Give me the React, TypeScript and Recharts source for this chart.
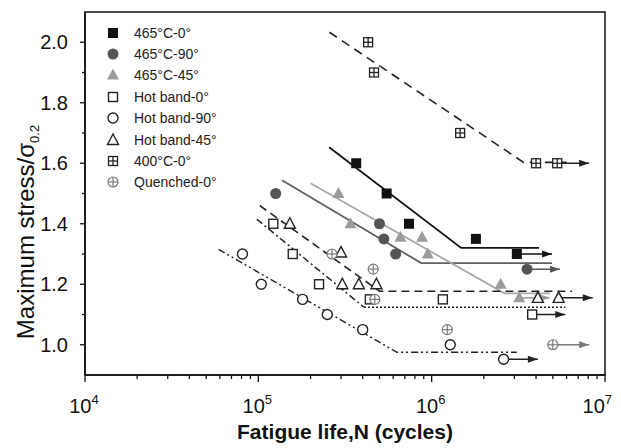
import React from "react";
import { ComposedChart, XAxis, YAxis, Scatter, ReferenceArea, Label } from "recharts";

const W = 613;
const H = 440;
const FONT = "'Liberation Sans', Arial, sans-serif";

// measured points: fatigue life (cycles) and max stress / sigma0.2
const N_465_0 = [3.67e5, 5.5e5, 7.4e5, 1.8e6, 3.1e6];
const S_465_0 = [1.6, 1.5, 1.4, 1.35, 1.3];
const N_465_90 = [1.26e5, 5.0e5, 5.3e5, 6.2e5, 3.55e6];
const S_465_90 = [1.5, 1.4, 1.35, 1.3, 1.25];
const N_465_45 = [2.9e5, 3.4e5, 6.6e5, 8.8e5, 9.5e5, 2.5e6, 3.2e6];
const S_465_45 = [1.5, 1.4, 1.355, 1.355, 1.3, 1.2, 1.155];
const N_HB_0 = [1.22e5, 1.58e5, 2.24e5, 4.4e5, 1.16e6, 3.8e6];
const S_HB_0 = [1.4, 1.3, 1.2, 1.15, 1.15, 1.1];
const N_HB_90 = [8.1e4, 1.04e5, 1.8e5, 2.5e5, 4.0e5, 1.28e6, 2.6e6];
const S_HB_90 = [1.3, 1.2, 1.15, 1.1, 1.05, 1.0, 0.952];
const N_HB_45 = [1.52e5, 3.0e5, 3.05e5, 3.8e5, 4.8e5, 4.1e6, 5.4e6];
const S_HB_45 = [1.4, 1.305, 1.2, 1.2, 1.2, 1.155, 1.155];
const N_400_0 = [4.3e5, 4.65e5, 1.46e6, 4.0e6, 5.3e6];
const S_400_0 = [2.0, 1.9, 1.7, 1.6, 1.6];
const N_Q_0 = [2.66e5, 4.6e5, 4.7e5, 1.23e6, 5.0e6];
const S_Q_0 = [1.3, 1.25, 1.15, 1.05, 1.0];

// run-out arrows go from the last point of each series to these lives
const RUNOUT_465_0 = 4.95e6;
const RUNOUT_465_90 = 5.5e6;
const RUNOUT_465_45 = 4.8e6;
const RUNOUT_HB_0 = 5.9e6;
const RUNOUT_HB_90 = 4.1e6;
const RUNOUT_HB_45 = 8.5e6;
const RUNOUT_400_0 = 8.1e6;
const RUNOUT_Q_0 = 8.1e6;

// fitted S-N lines (knee + fatigue limit)
const FIT_465_0_N = [2.56e5, 1.48e6, 4.17e6];
const FIT_465_0_S = [1.653, 1.32, 1.32];
const FIT_465_90_N = [1.37e5, 8.7e5, 4.95e6];
const FIT_465_90_S = [1.544, 1.27, 1.27];
const FIT_465_45_N = [2.0e5, 2.63e6, 4.8e6];
const FIT_465_45_S = [1.534, 1.17, 1.17];
const FIT_HB_45_N = [1.02e5, 5.0e5, 6.46e6];
const FIT_HB_45_S = [1.46, 1.177, 1.177];
const FIT_HB_0_N = [9.8e4, 4.07e5];
const FIT_HB_0_S = [1.415, 1.124];
const FIT_HB_0_FLAT_N = [4.07e5, 5.9e6];
const FIT_HB_0_FLAT_S = [1.124, 1.124];
const FIT_HB_90_N = [5.9e4, 6.3e5, 3.1e6];
const FIT_HB_90_S = [1.315, 0.975, 0.975];
const FIT_400_0_N = [2.57e5, 3.39e6, 6.0e6];
const FIT_400_0_S = [2.033, 1.603, 1.603];

const X_MAJOR = [1e4, 1e5, 1e6, 1e7];
const X_MINOR_MULT = [2, 3, 4, 5, 6, 7, 8, 9];
const Y_TICKS = [1.0, 1.1, 1.2, 1.3, 1.4, 1.5, 1.6, 1.7, 1.8, 1.9, 2.0];
const Y_LABELS = ["1.0", "1.2", "1.4", "1.6", "1.8", "2.0"];

const X_TICKS = [
  ...X_MAJOR,
  ...X_MAJOR.slice(0, 3).flatMap((d) => X_MINOR_MULT.map((m) => m * d)),
].sort((a, b) => a - b);

const toPts = (n: number[], s: number[]) => n.map((v, i) => ({ n: v, s: s[i] }));

type Kind = "sqFill" | "circFill" | "triFill" | "sqOpen" | "circOpen" | "triOpen" | "sqGrid" | "circCross";

const SERIES: { name: string; n: number[]; s: number[]; tip: number; kind: Kind; color: string }[] = [
  { name: "465°C-0°", n: N_465_0, s: S_465_0, tip: RUNOUT_465_0, kind: "sqFill", color: "#111" },
  { name: "465°C-90°", n: N_465_90, s: S_465_90, tip: RUNOUT_465_90, kind: "circFill", color: "#555" },
  { name: "465°C-45°", n: N_465_45, s: S_465_45, tip: RUNOUT_465_45, kind: "triFill", color: "#9c9c9c" },
  { name: "Hot band-0°", n: N_HB_0, s: S_HB_0, tip: RUNOUT_HB_0, kind: "sqOpen", color: "#222" },
  { name: "Hot band-90°", n: N_HB_90, s: S_HB_90, tip: RUNOUT_HB_90, kind: "circOpen", color: "#222" },
  { name: "Hot band-45°", n: N_HB_45, s: S_HB_45, tip: RUNOUT_HB_45, kind: "triOpen", color: "#222" },
  { name: "400°C-0°", n: N_400_0, s: S_400_0, tip: RUNOUT_400_0, kind: "sqGrid", color: "#222" },
  { name: "Quenched-0°", n: N_Q_0, s: S_Q_0, tip: RUNOUT_Q_0, kind: "circCross", color: "#7a7a7a" },
];

const FITS = [
  { n: FIT_465_0_N, s: FIT_465_0_S, stroke: "#111", width: 1.8, dash: undefined },
  { n: FIT_465_90_N, s: FIT_465_90_S, stroke: "#606060", width: 1.8, dash: undefined },
  { n: FIT_465_45_N, s: FIT_465_45_S, stroke: "#a8a8a8", width: 1.8, dash: undefined },
  { n: FIT_HB_45_N, s: FIT_HB_45_S, stroke: "#222", width: 1.6, dash: "8 5" },
  { n: FIT_HB_0_N, s: FIT_HB_0_S, stroke: "#222", width: 1.5, dash: "7 3 2 3" },
  { n: FIT_HB_0_FLAT_N, s: FIT_HB_0_FLAT_S, stroke: "#222", width: 1.6, dash: "2 2" },
  { n: FIT_HB_90_N, s: FIT_HB_90_S, stroke: "#222", width: 1.4, dash: "7 3 2 3 2 3" },
  { n: FIT_400_0_N, s: FIT_400_0_S, stroke: "#222", width: 1.6, dash: "9 6" },
];

const Marker = ({ kind, cx, cy, color }: { kind: Kind; cx: number; cy: number; color: string }) => {
  if (cx == null || cy == null) return <g />;
  switch (kind) {
    case "sqFill":
      return <rect x={cx - 5} y={cy - 5} width={10} height={10} fill={color} />;
    case "circFill":
      return <circle cx={cx} cy={cy} r={5.5} fill={color} />;
    case "triFill":
      return <polygon points={`${cx},${cy - 6.5} ${cx - 6},${cy + 4.5} ${cx + 6},${cy + 4.5}`} fill={color} />;
    case "sqOpen":
      return <rect x={cx - 4.5} y={cy - 4.5} width={9} height={9} fill="#fff" stroke={color} strokeWidth={1.4} />;
    case "circOpen":
      return <circle cx={cx} cy={cy} r={5} fill="#fff" stroke={color} strokeWidth={1.4} />;
    case "triOpen":
      return (
        <polygon
          points={`${cx},${cy - 6} ${cx - 5.5},${cy + 4.5} ${cx + 5.5},${cy + 4.5}`}
          fill="#fff"
          stroke={color}
          strokeWidth={1.4}
        />
      );
    case "sqGrid":
      return (
        <g stroke={color} strokeWidth={1.3}>
          <rect x={cx - 4.5} y={cy - 4.5} width={9} height={9} fill="#fff" />
          <line x1={cx - 4.5} x2={cx + 4.5} y1={cy} y2={cy} />
          <line x1={cx} x2={cx} y1={cy - 4.5} y2={cy + 4.5} />
        </g>
      );
    case "circCross":
      return (
        <g stroke={color} strokeWidth={1.2}>
          <circle cx={cx} cy={cy} r={5} fill="#fff" />
          <line x1={cx - 5} x2={cx + 5} y1={cy} y2={cy} />
          <line x1={cx} x2={cx} y1={cy - 5} y2={cy + 5} />
        </g>
      );
  }
  return <g />;
};

const XTick = (props: any) => {
  const { x, y, payload } = props;
  const e = Math.log10(payload.value);
  const major = Math.abs(e - Math.round(e)) < 1e-6;
  // last label would run off the page, so it ends at the page edge
  const last = payload.value >= X_MAJOR[X_MAJOR.length - 1];
  return (
    <g>
      <line x1={x} x2={x} y1={y} y2={y + (major ? 7 : 4)} stroke="#111" strokeWidth={1.3} />
      {major && (
        <text
          x={last ? W - 9 : x - 1}
          y={y + 38}
          textAnchor={last ? "end" : "middle"}
          fontSize={20}
          fill="#111"
          fontFamily={FONT}
        >
          10
          <tspan fontSize={13} dy={-9}>
            {Math.round(e)}
          </tspan>
        </text>
      )}
    </g>
  );
};

const YTick = (props: any) => {
  const { x, y, payload } = props;
  const label = payload.value.toFixed(1);
  const major = Y_LABELS.includes(label);
  return (
    <g>
      <line x1={x - (major ? 5 : 3)} x2={x} y1={y} y2={y} stroke="#111" strokeWidth={1.3} />
      {major && (
        <text x={x - 17} y={y + 7} textAnchor="end" fontSize={20} fill="#111" fontFamily={FONT}>
          {label}
        </text>
      )}
    </g>
  );
};

const XTitle = (props: any) => {
  const vb = props.viewBox || {};
  return (
    <text x={vb.x + vb.width / 2} y={431} textAnchor="middle" fontSize={21} fontWeight="bold" fill="#111" fontFamily={FONT}>
      Fatigue life,N (cycles)
    </text>
  );
};

const YTitle = () => (
  <text x={26} y={224} transform="rotate(-90 26 224)" textAnchor="middle" fontSize={24} fill="#111" fontFamily={FONT}>
    Maximum stress/σ
    <tspan fontSize={13} dy={5}>
      0.2
    </tspan>
  </text>
);

const Arrow = (props: any) => {
  const { cx, cy, payload, fill } = props;
  if (!payload || !payload.tip) return <g />;
  return <polygon points={`${cx},${cy} ${cx - 10},${cy - 3.5} ${cx - 10},${cy + 3.5}`} fill={fill} />;
};

export default function App() {
  return (
    <div style={{ position: "relative", width: W, height: H }}>
      <ComposedChart width={W} height={H} margin={{ top: 4, right: 16, bottom: 0, left: 0 }}>
        <XAxis
          dataKey="n"
          type="number"
          scale="log"
          domain={[1e4, 1e7]}
          allowDataOverflow
          ticks={X_TICKS}
          interval={0}
          tickSize={0}
          tickMargin={0}
          tickLine={false}
          tick={<XTick />}
          height={73}
          axisLine={{ stroke: "#111", strokeWidth: 1.5 }}
        >
          <Label content={<XTitle />} />
        </XAxis>
        <YAxis
          dataKey="s"
          type="number"
          domain={[0.9, 2.1]}
          allowDataOverflow
          ticks={Y_TICKS}
          interval={0}
          tickSize={0}
          tickMargin={0}
          tickLine={false}
          tick={<YTick />}
          width={77}
          axisLine={{ stroke: "#111", strokeWidth: 1.5 }}
        >
          <Label content={<YTitle />} />
        </YAxis>
        <ReferenceArea x1={1e4} x2={1e7} y1={0.9} y2={2.1} fill="none" stroke="#111" strokeWidth={1.5} />
        {FITS.map((f, i) => (
          <Scatter
            key={`fit-${i}`}
            data={toPts(f.n, f.s)}
            line={{ stroke: f.stroke, strokeWidth: f.width, strokeDasharray: f.dash }}
            shape={() => <g />}
            legendType="none"
            isAnimationActive={false}
          />
        ))}
        {SERIES.map((sr, i) => (
          <Scatter
            key={`run-${i}`}
            data={[
              { n: sr.n[sr.n.length - 1], s: sr.s[sr.s.length - 1] },
              { n: sr.tip, s: sr.s[sr.s.length - 1], tip: true },
            ]}
            fill={sr.color}
            line={{ stroke: sr.color, strokeWidth: 1.5 }}
            shape={<Arrow />}
            legendType="none"
            isAnimationActive={false}
          />
        ))}
        {SERIES.map((sr, i) => (
          <Scatter
            key={`pts-${i}`}
            name={sr.name}
            data={toPts(sr.n, sr.s)}
            fill={sr.color}
            shape={(p: any) => <Marker kind={sr.kind} cx={p.cx} cy={p.cy} color={sr.color} />}
            isAnimationActive={false}
          />
        ))}
      </ComposedChart>
      <div style={{ position: "absolute", left: 97, top: 14, fontFamily: FONT, fontSize: 14, color: "#222" }}>
        {SERIES.map((sr) => (
          <div key={sr.name} style={{ height: 21.4, display: "flex", alignItems: "center" }}>
            <svg width={16} height={16} style={{ display: "block" }}>
              <Marker kind={sr.kind} cx={8} cy={8} color={sr.color} />
            </svg>
            <span style={{ marginLeft: 13, whiteSpace: "nowrap" }}>{sr.name}</span>
          </div>
        ))}
      </div>
    </div>
  );
}
